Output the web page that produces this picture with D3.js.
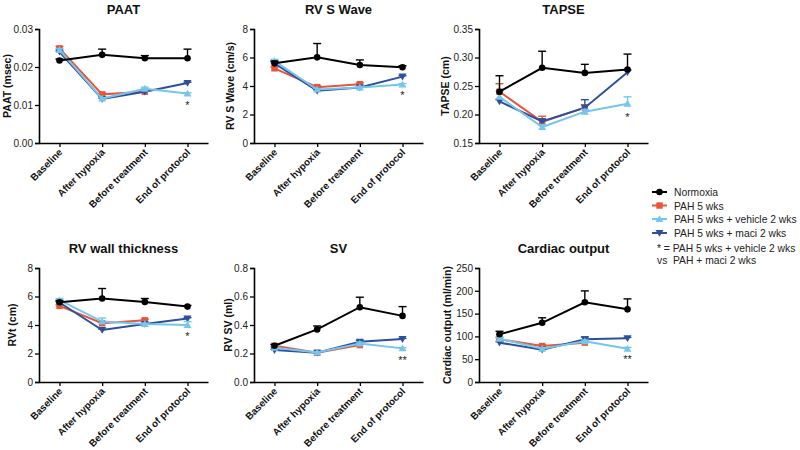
<!DOCTYPE html>
<html>
<head>
<meta charset="utf-8">
<script src="https://cdn.jsdelivr.net/npm/d3@7"></script>
<style>
  html, body { margin: 0; padding: 0; background: #fff; }
  svg { display: block; font-family: "Liberation Sans", Arial, Helvetica, sans-serif; }
</style>
</head>
<body>
<svg id="chart" width="800" height="450"></svg>
<script>
// ---------------- DATA ----------------
const categories = ["Baseline", "After hypoxia", "Before treatment", "End of protocol"];
const seriesNames = ["Normoxia", "PAH 5 wks", "PAH 5 wks + vehicle 2 wks", "PAH 5 wks + maci 2 wks"];
const seriesColors = ["#000000", "#e8553a", "#74c6ea", "#2d4f9c"];
const seriesShapes = ["circle", "square", "triangleUp", "triangleDown"];

// means per series: [Normoxia, PAH 5 wks, vehicle, maci]; null = not measured
const paatMeans = [
  [0.0217, 0.0232, 0.0223, 0.0223],
  [0.0249, 0.0128, 0.0135, null],
  [0.0245, 0.0117, 0.0143, 0.0130],
  [0.0240, 0.0116, 0.0135, 0.0158]
];
const paatErr = [
  [0.0004, 0.0015, 0.0007, 0.0024],
  [0.0005, 0.0003, 0.0002, null],
  [0.0003, 0.0002, 0.0004, 0.0002],
  [0.0002, 0.0002, 0.0002, 0.0002]
];
const rvsMeans = [
  [5.59, 6.01, 5.47, 5.32],
  [5.24, 3.92, 4.13, null],
  [5.75, 3.75, 3.89, 4.11],
  [5.59, 3.66, 3.89, 4.66]
];
const rvsErr = [
  [0.15, 0.97, 0.36, 0.10],
  [0.10, 0.10, 0.08, null],
  [0.12, 0.08, 0.08, 0.06],
  [0.08, 0.08, 0.06, 0.06]
];
const tapseMeans = [
  [0.240, 0.282, 0.273, 0.279],
  [0.240, 0.187, 0.212, null],
  [0.231, 0.178, 0.205, 0.219],
  [0.223, 0.188, 0.212, 0.274]
];
const tapseErr = [
  [0.028, 0.029, 0.015, 0.027],
  [0.014, 0.010, 0.005, null],
  [0.010, 0.004, 0.004, 0.012],
  [0.003, 0.004, 0.014, 0.004]
];
const rvtMeans = [
  [5.60, 5.86, 5.62, 5.29],
  [5.34, 4.12, 4.33, null],
  [5.74, 4.24, 4.07, 4.00],
  [5.58, 3.65, 4.07, 4.45]
];
const rvtErr = [
  [0.10, 0.70, 0.24, 0.08],
  [0.08, 0.10, 0.08, null],
  [0.12, 0.25, 0.06, 0.24],
  [0.06, 0.06, 0.06, 0.06]
];
const svMeans = [
  [0.254, 0.369, 0.525, 0.464],
  [0.254, 0.205, 0.259, null],
  [0.240, 0.207, 0.270, 0.236],
  [0.224, 0.205, 0.282, 0.301]
];
const svErr = [
  [0.010, 0.024, 0.070, 0.065],
  [0.008, 0.006, 0.006, null],
  [0.008, 0.005, 0.010, 0.005],
  [0.005, 0.005, 0.010, 0.005]
];
const coMeans = [
  [104.7, 129.8, 174.8, 159.3],
  [93.7, 78.9, 86.3, null],
  [95.1, 73.0, 89.2, 73.0],
  [86.3, 70.8, 93.7, 95.9]
];
const coErr = [
  [6.5, 11.0, 25.0, 23.0],
  [4.0, 3.0, 3.0, null],
  [3.0, 2.0, 3.0, 3.0],
  [2.0, 2.0, 5.0, 2.0]
];

const paatTicks = [0, 0.01, 0.02, 0.03];
const rvsTicks = [0, 2, 4, 6, 8];
const tapseTicks = [0.15, 0.20, 0.25, 0.30, 0.35];
const rvtTicks = [0, 2, 4, 6, 8];
const svTicks = [0, 0.2, 0.4, 0.6, 0.8];
const coTicks = [0, 50, 100, 150, 200, 250];

const titles = ["PAAT", "RV S Wave", "TAPSE", "RV wall thickness", "SV", "Cardiac output"];
const yLabels = ["PAAT (msec)", "RV S Wave (cm/s)", "TAPSE (cm)", "RVt (cm)", "RV SV (ml)", "Cardiac output (ml/min)"];
const sigMarks = ["*", "*", "*", "*", "**", "**"];
const sigValues = [0.0106, 3.5, 0.199, 3.36, 0.165, 54];

const legendNote = ["* = PAH 5 wks + vehicle 2 wks", "vs  PAH + maci 2 wks"];

// ---------------- LAYOUT ----------------
const panels = [
  { means: paatMeans, err: paatErr, ticks: paatTicks, fmt: ".2f", left: 39, top: 29, bottom: 143, labelX: 7 },
  { means: rvsMeans, err: rvsErr, ticks: rvsTicks, fmt: "d", left: 254, top: 29, bottom: 143, labelX: 230 },
  { means: tapseMeans, err: tapseErr, ticks: tapseTicks, fmt: ".2f", left: 479, top: 29, bottom: 143, labelX: 445 },
  { means: rvtMeans, err: rvtErr, ticks: rvtTicks, fmt: "d", left: 39, top: 268, bottom: 382, labelX: 12 },
  { means: svMeans, err: svErr, ticks: svTicks, fmt: ".1f", left: 254, top: 268, bottom: 382, labelX: 228 },
  { means: coMeans, err: coErr, ticks: coTicks, fmt: "d", left: 479, top: 268, bottom: 382, labelX: 447 }
];
const plotWidth = 169;
const drawOrder = [1, 3, 2, 0];

const svg = d3.select("#chart");

function drawMarker(g, shape, x, y, color) {
  if (shape === "circle") {
    g.append("circle").attr("cx", x).attr("cy", y).attr("r", 3.3).attr("fill", color);
  } else if (shape === "square") {
    g.append("rect").attr("x", x - 3.2).attr("y", y - 3.2).attr("width", 6.4).attr("height", 6.4).attr("fill", color);
  } else if (shape === "triangleUp") {
    g.append("path").attr("d", `M${x},${y - 3.8}L${x + 4},${y + 3}L${x - 4},${y + 3}Z`).attr("fill", color);
  } else {
    g.append("path").attr("d", `M${x},${y + 3.8}L${x + 4},${y - 3}L${x - 4},${y - 3}Z`).attr("fill", color);
  }
}

panels.forEach((p, pi) => {
  const g = svg.append("g");
  const x = d3.scalePoint().domain(categories).range([p.left, p.left + plotWidth]).padding(0.48);
  const y = d3.scaleLinear().domain([p.ticks[0], p.ticks[p.ticks.length - 1]]).range([p.bottom, p.top]);

  // title
  g.append("text")
    .attr("x", p.left + plotWidth / 2).attr("y", p.top - 15)
    .attr("text-anchor", "middle").attr("font-size", 13).attr("font-weight", "bold")
    .attr("fill", "#111").text(titles[pi]);

  // y axis
  const yAxis = d3.axisLeft(y).tickValues(p.ticks).tickSize(4).tickPadding(2)
    .tickFormat(p.fmt === "d" ? d3.format("d") : d3.format(p.fmt));
  const ya = g.append("g").attr("transform", `translate(${p.left},0)`).call(yAxis);
  ya.select(".domain").attr("stroke", "#000").attr("stroke-width", 1.6);
  ya.selectAll(".tick line").attr("stroke", "#000").attr("stroke-width", 1.3);
  ya.selectAll(".tick text").attr("font-size", 10).attr("fill", "#222")
    .attr("font-family", "'Liberation Sans', Arial, sans-serif");

  // x axis
  const xAxis = d3.axisBottom(x).tickSize(4).tickSizeOuter(0).tickPadding(2);
  const xa = g.append("g").attr("transform", `translate(0,${p.bottom})`).call(xAxis);
  xa.select(".domain").attr("stroke", "#000").attr("stroke-width", 1.6);
  xa.selectAll(".tick line").attr("stroke", "#000").attr("stroke-width", 1.3);
  xa.selectAll(".tick text")
    .attr("font-size", 9.8).attr("font-weight", "bold").attr("fill", "#111")
    .attr("font-family", "'Liberation Sans', Arial, sans-serif")
    .attr("text-anchor", "end").attr("dy", null).attr("y", 0)
    .attr("transform", "translate(3,10) rotate(-45)");

  // y label
  g.append("text")
    .attr("transform", `translate(${p.labelX + 4},${(p.top + p.bottom) / 2}) rotate(-90)`)
    .attr("text-anchor", "middle").attr("font-size", 10.5).attr("font-weight", "bold")
    .attr("fill", "#111").text(yLabels[pi]);

  // series
  drawOrder.forEach(si => {
    const vals = p.means[si];
    const errs = p.err[si];
    const color = seriesColors[si];
    const pts = categories.map((c, ci) => ({ c, v: vals[ci], e: errs[ci] })).filter(d => d.v !== null);
    const sg = g.append("g");
    // error bars (upper only)
    pts.forEach(d => {
      const cx = x(d.c), cy = y(d.v), ty = y(d.v + d.e);
      sg.append("line").attr("x1", cx).attr("x2", cx).attr("y1", cy).attr("y2", ty)
        .attr("stroke", color).attr("stroke-width", 1.4);
      sg.append("line").attr("x1", cx - 4).attr("x2", cx + 4).attr("y1", ty).attr("y2", ty)
        .attr("stroke", color).attr("stroke-width", 1.4);
    });
    const line = d3.line().x(d => x(d.c)).y(d => y(d.v));
    sg.append("path").datum(pts).attr("d", line)
      .attr("fill", "none").attr("stroke", color).attr("stroke-width", 2);
    pts.forEach(d => drawMarker(sg, seriesShapes[si], x(d.c), y(d.v), color));
  });

  // significance mark
  g.append("text")
    .attr("x", x(categories[3])).attr("y", y(sigValues[pi]) + 6)
    .attr("text-anchor", "middle").attr("font-size", 11).attr("fill", "#222")
    .text(sigMarks[pi]);
});

// ---------------- LEGEND ----------------
const lg = svg.append("g");
const legendRowY = [192, 205.5, 219, 233];
const legendFont = 10.3;
seriesNames.forEach((name, i) => {
  const yy = legendRowY[i];
  lg.append("line").attr("x1", 652).attr("x2", 667).attr("y1", yy).attr("y2", yy)
    .attr("stroke", seriesColors[i]).attr("stroke-width", 2);
  drawMarker(lg, seriesShapes[i], 659.5, yy, seriesColors[i]);
  lg.append("text").attr("x", 674).attr("y", yy + 4).attr("font-size", legendFont)
    .attr("fill", "#222").text(name);
});
lg.append("text").attr("x", 657).attr("y", 252).attr("font-size", legendFont).attr("fill", "#222").text(legendNote[0]);
lg.append("text").attr("x", 657).attr("y", 264).attr("font-size", legendFont).attr("fill", "#222")
  .style("white-space", "pre").text(legendNote[1]);
</script>
</body>
</html>
